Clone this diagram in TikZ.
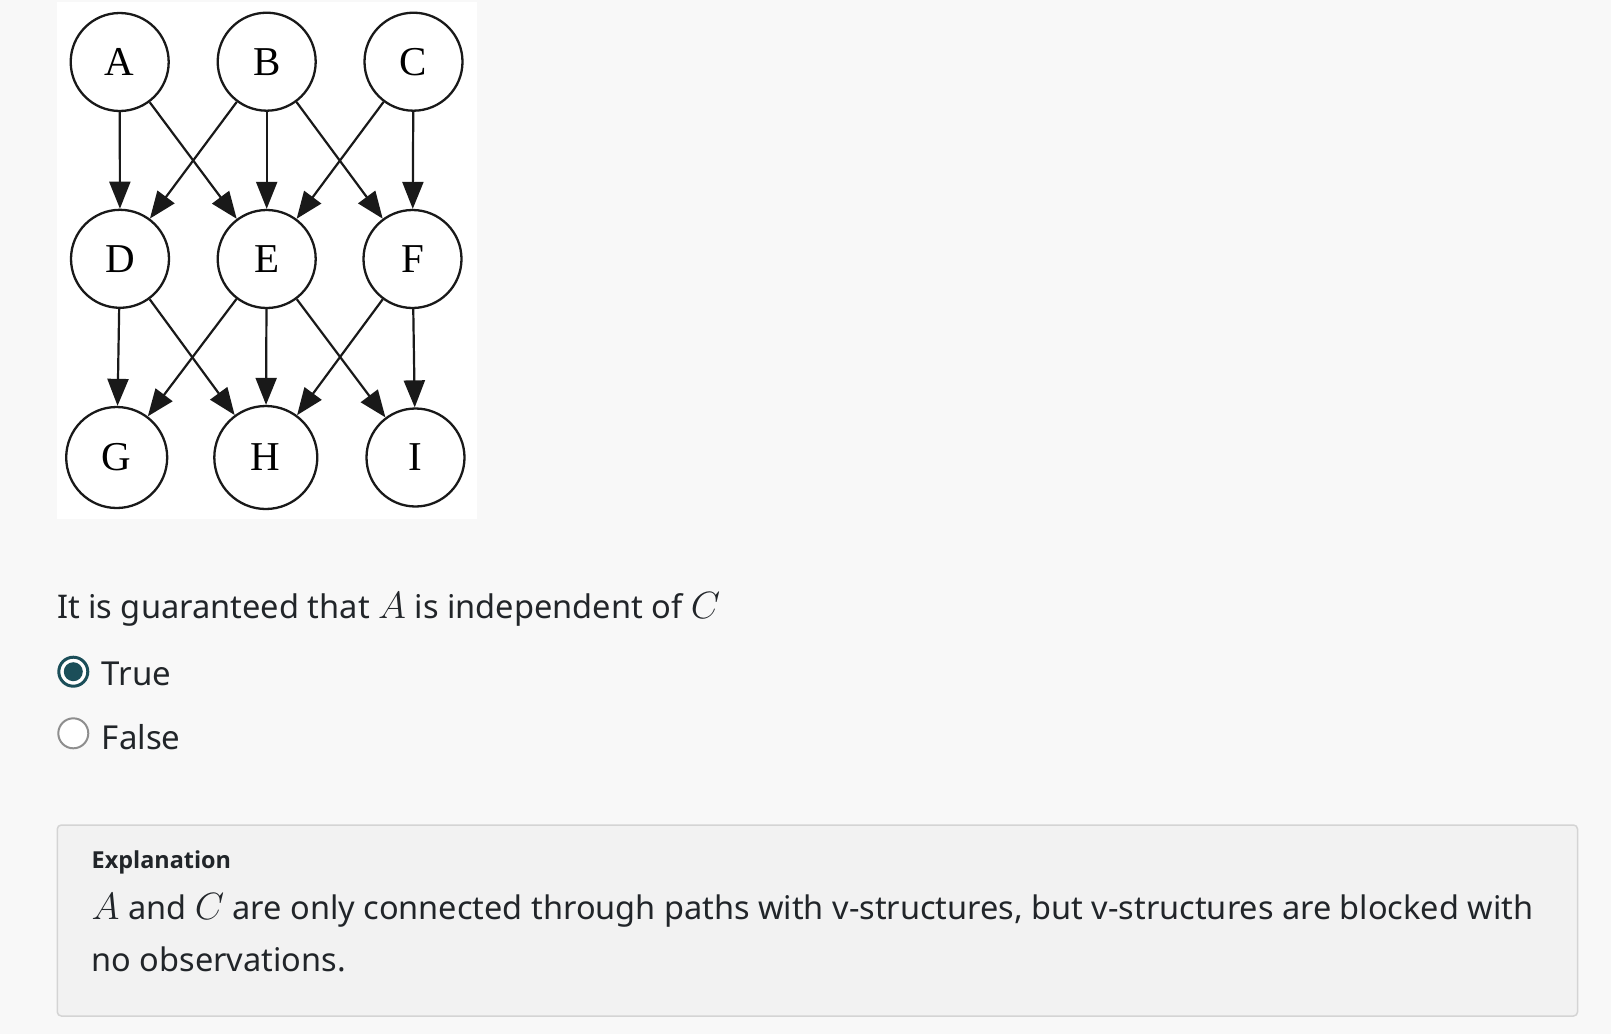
\RequirePackage{fix-cm}
\documentclass[tikz,border=0pt]{standalone}
\usepackage{fontspec}
\setmainfont{Noto Sans}
\newfontfamily\gvfont{Liberation Serif}
\newfontfamily\headfont{Open Sans}
\usetikzlibrary{arrows.meta}
\definecolor{pagebg}{HTML}{F8F8F8}
\definecolor{boxbg}{HTML}{F2F2F2}
\definecolor{boxline}{HTML}{D4D4D4}
\definecolor{txt}{HTML}{212529}
\definecolor{radioteal}{HTML}{1B4E59}
\definecolor{radiogray}{HTML}{8E8E8E}
\newcommand{\mvar}[1]{{\fontsize{38}{40}\selectfont$#1$}}
\tikzset{
  gv/.style={circle, draw=black!90, line width=2.3pt, fill=white, minimum size=98pt,
    inner sep=0pt, font=\gvfont\fontsize{41}{41}\selectfont},
  gvedge/.style={line width=2.2pt, draw=black!90,
    -{Triangle[length=27pt,width=21pt]}},
  uitext/.style={anchor=base west, inner sep=0pt, text=txt},
}
\begin{document}
\begin{tikzpicture}[x=1pt,y=-1pt]
\fill[pagebg] (0,0) rectangle (1611,1034);
\useasboundingbox (0,0) rectangle (1611,1034);
\fill[white] (56.7,2) rectangle (476.5,519.3);
% graph
\node[gv] (A) at (119.7,62) {A};
\node[gv] (B) at (266.7,61.7) {B};
\node[gv] (C) at (413.5,61.7) {C};
\node[gv] (D) at (120,258.8) {D};
\node[gv] (E) at (266.7,259) {E};
\node[gv] (F) at (412.5,259) {F};
\node[gv, minimum size=101pt] (G) at (116.7,457.5) {G};
\node[gv, minimum size=103pt] (H) at (265.8,457.5) {H};
\node[gv] (I) at (415.5,457.5) {I};
\foreach \s/\t in {A/D,A/E,B/D,B/E,B/F,C/E,C/F,D/G,D/H,E/G,E/H,E/I,F/H,F/I}
  \draw[gvedge] (\s) -- (\t);
% question
\node[uitext, font=\fontsize{32.6}{40}\selectfont] (q) at (57,618.3)
  {It is guaranteed that \mvar{A} is independent of \mvar{C}};
% radio buttons
\node[circle, draw=radioteal, line width=3pt, fill=white, minimum size=29pt, inner sep=0pt] (r1) at (73.3,671.7) {};
\node[circle, fill=radioteal, minimum size=19pt, inner sep=0pt] (r1dot) at (r1.center) {};
\node[uitext, font=\fontsize{33}{40}\selectfont] (t1) at (101.7,685) {True};
\node[circle, draw=radiogray, line width=2pt, fill=white, minimum size=30pt, inner sep=0pt] (r2) at (73.3,733.3) {};
\node[uitext, font=\fontsize{33}{40}\selectfont] (t2) at (101.7,749.3) {False};
% explanation box
\draw[rounded corners=4pt, fill=boxbg, draw=boxline, line width=1.5pt] (57.3,825) rectangle (1577.5,1016);
\node[uitext, font=\headfont\bfseries\fontsize{23.4}{28}\selectfont] (eh) at (91.5,868.3) {Explanation};
\node[uitext, font=\fontsize{32.5}{40}\selectfont] (e1) at (91.5,919.3)
  {\mvar{A} and \mvar{C} are only connected through paths with v-structures, but v-structures are blocked with};
\node[uitext, font=\fontsize{32.5}{40}\selectfont] (e2) at (91.5,971.7) {no observations.};
\end{tikzpicture}
\end{document}
